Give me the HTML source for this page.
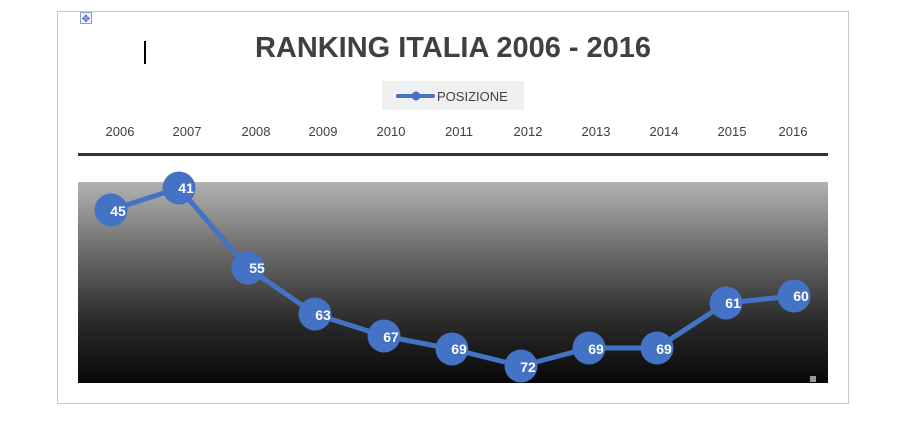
<!DOCTYPE html>
<html><head><style>
body{margin:0;background:#fff;}
svg{display:block;font-family:"Liberation Sans",sans-serif;}
</style></head><body>
<svg width="905" height="436" viewBox="0 0 905 436">
<defs><linearGradient id="g" x1="0" y1="0" x2="0" y2="1">
<stop offset="0" stop-color="#b2b2b2"/><stop offset="0.35" stop-color="#6a6a6a"/><stop offset="0.7" stop-color="#2a2a2a"/><stop offset="1" stop-color="#080808"/></linearGradient></defs>
<rect x="57.5" y="11.5" width="791" height="392" fill="#fff" stroke="#c8c8c8"/>
<rect x="80.5" y="12.5" width="11" height="11" fill="#eef3fb" stroke="#8aa0c8"/>
<text x="86" y="22" font-size="10" fill="#3b5fa8" text-anchor="middle">✥</text>
<rect x="144" y="41" width="2" height="23" fill="#000"/>
<text x="453" y="57" font-size="29" font-weight="bold" fill="#404040" text-anchor="middle" textLength="396" lengthAdjust="spacingAndGlyphs">RANKING ITALIA 2006 - 2016</text>
<rect x="382" y="81" width="142" height="29" fill="#f0f0f0"/>
<line x1="398" y1="96" x2="433" y2="96" stroke="#4472c4" stroke-width="4" stroke-linecap="round"/>
<circle cx="416" cy="96" r="4.5" fill="#4472c4"/>
<text x="437" y="101" font-size="13" fill="#404040">POSIZIONE</text>
<g font-size="13" fill="#404040" text-anchor="middle">
<text x="120" y="136">2006</text><text x="187" y="136">2007</text><text x="256" y="136">2008</text><text x="323" y="136">2009</text><text x="391" y="136">2010</text><text x="459" y="136">2011</text><text x="528" y="136">2012</text><text x="596" y="136">2013</text><text x="664" y="136">2014</text><text x="732" y="136">2015</text><text x="793" y="136">2016</text>
</g>
<rect x="78" y="153" width="750" height="3" fill="#333"/>
<rect x="78" y="182" width="750" height="201" fill="url(#g)"/>
<rect x="810" y="376" width="6" height="6" fill="#999"/>
<polyline points="111,210 179,188 248,268 315,314 384,336 452,349 521,366 589,348 657,348 726,303 794,296" fill="none" stroke="#4472c4" stroke-width="5" stroke-linejoin="round"/>
<g fill="#4472c4">
<circle cx="111" cy="210" r="16.5"/><circle cx="179" cy="188" r="16.5"/><circle cx="248" cy="268" r="16.5"/><circle cx="315" cy="314" r="16.5"/><circle cx="384" cy="336" r="16.5"/><circle cx="452" cy="349" r="16.5"/><circle cx="521" cy="366" r="16.5"/><circle cx="589" cy="348" r="16.5"/><circle cx="657" cy="348" r="16.5"/><circle cx="726" cy="303" r="16.5"/><circle cx="794" cy="296" r="16.5"/>
</g>
<g font-size="14" font-weight="bold" fill="#fff" text-anchor="middle">
<text x="118" y="216">45</text><text x="186" y="193">41</text><text x="257" y="273">55</text><text x="323" y="320">63</text><text x="391" y="342">67</text><text x="459" y="354">69</text><text x="528" y="372">72</text><text x="596" y="354">69</text><text x="664" y="354">69</text><text x="733" y="308">61</text><text x="801" y="301">60</text>
</g>
</svg>
</body></html>
